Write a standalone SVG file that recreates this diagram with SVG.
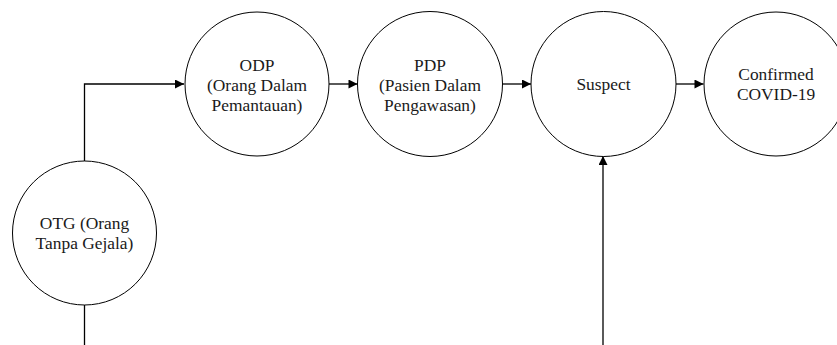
<svg xmlns="http://www.w3.org/2000/svg" width="837" height="345" viewBox="0 0 837 345">
<style>
.node circle{fill:#fff;stroke:#000;stroke-width:1}
.node text{font-family:'Liberation Serif','Times New Roman',Times,serif;font-size:17.4px;fill:#1a1a1a;text-anchor:middle}
.edge{fill:none;stroke:#000;stroke-width:1.3}
</style>
<defs>
<marker id="arr" viewBox="0 0 10 10" refX="10" refY="5" markerWidth="10" markerHeight="9" markerUnits="userSpaceOnUse" orient="auto">
<path d="M0,0 L10,5 L0,10 Z" fill="#000"/>
</marker>
</defs>
<g id="connectors">
<path class="edge" d="M84.5,162 V84 H184" marker-end="url(#arr)"/>
<path class="edge" d="M84.5,305 V345"/>
<path class="edge" d="M329,84 H357.5" marker-end="url(#arr)"/>
<path class="edge" d="M502,84 H531" marker-end="url(#arr)"/>
<path class="edge" d="M676,84 H703.5" marker-end="url(#arr)"/>
<path class="edge" d="M603,345 V156" marker-end="url(#arr)"/>
</g>
<g id="otg" class="node">
<circle cx="84.5" cy="233" r="72"/>
<text x="84.5" y="229">OTG (Orang</text>
<text x="84.5" y="249">Tanpa Gejala)</text>
</g>
<g id="odp" class="node">
<circle cx="257" cy="84" r="72"/>
<text x="257" y="70.5">ODP</text>
<text x="257" y="90.5">(Orang Dalam</text>
<text x="257" y="110.5">Pemantauan)</text>
</g>
<g id="pdp" class="node">
<circle cx="430" cy="84" r="72.5"/>
<text x="430" y="70.5">PDP</text>
<text x="430" y="90.5">(Pasien Dalam</text>
<text x="430" y="110.5">Pengawasan)</text>
</g>
<g id="suspect" class="node">
<circle cx="603.5" cy="84" r="72.5"/>
<text x="603.5" y="89.5">Suspect</text>
</g>
<g id="confirmed" class="node">
<circle cx="776" cy="84" r="72"/>
<text x="776" y="80">Confirmed</text>
<text x="776" y="100">COVID-19</text>
</g>
</svg>
